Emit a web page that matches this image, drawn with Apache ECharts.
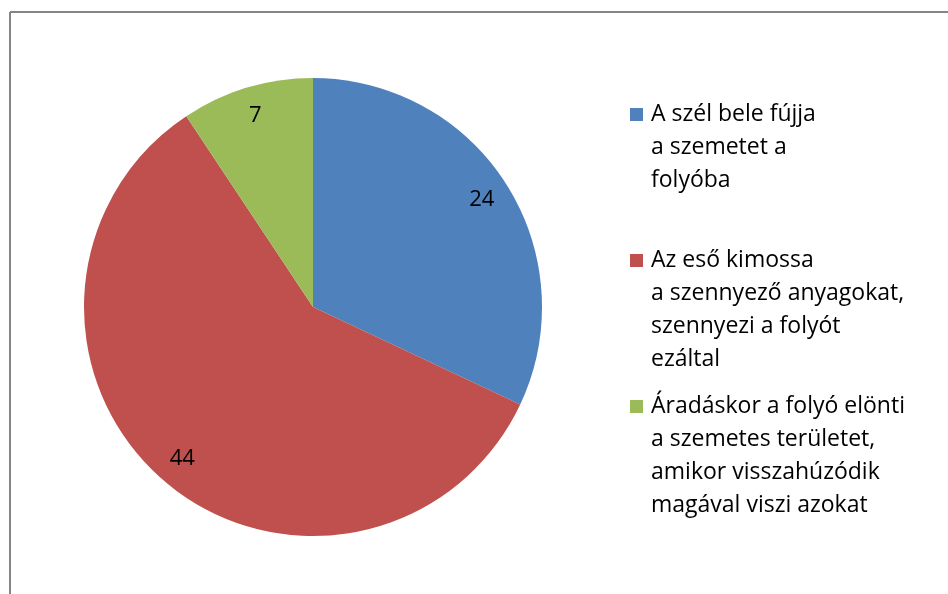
<!DOCTYPE html>
<html>
<head>
<meta charset="utf-8">
<script src="https://cdn.jsdelivr.net/npm/echarts@6/dist/echarts.min.js"></script>
<style>
  html, body { margin: 0; padding: 0; background: #fff; }
  #chart { width: 948px; height: 594px; }
</style>
</head>
<body>
<div id="chart"></div>
<script>
// kategóriák és értékek
let categories = [
    'A szél bele fújja\na szemetet a\nfolyóba',
    'Az eső kimossa\na szennyező anyagokat,\nszennyezi a folyót\nezáltal',
    'Áradáskor a folyó elönti\na szemetes területet,\namikor visszahúzódik\nmagával viszi azokat'
];
let values = [24, 44, 7];
let colors = ['#4F81BD', '#C0504D', '#9BBB59'];

let fontName = 'Open Sans';
let lineH = 33;
let legendTops = [32, 145, 291];

function initChart(dom){
    let chartDom = document.getElementById(dom);
    let chartInstance = echarts.getInstanceByDom(chartDom);
    if(chartInstance){
        return chartInstance;
    }
    return echarts.init(chartDom);
}

// minden jelmagyarázat külön, hogy az ikon az első sorhoz igazodjon
function buildLegends(){
    return categories.map(function(name, i){
        let n = name.split('\n').length;
        return {
            data: [name],
            left: 630,
            top: legendTops[i],
            padding: 0,
            orient: 'vertical',
            icon: 'rect',
            itemWidth: 13,
            itemHeight: 13,
            itemGap: 0,
            selectedMode: false,
            formatter: function(nm){
                return '\n'.repeat(n - 1) + nm;
            },
            textStyle: {
                fontFamily: fontName,
                fontSize: 23,
                color: '#000',
                lineHeight: lineH,
                padding: [0, 0, 0, 3]
            }
        };
    });
}

let pieData = categories.map(function(name, i){
    return { name: name, value: values[i], itemStyle: { color: colors[i] } };
});

let myChart = initChart('chart');
let option = {
    animation: false,
    graphic: [
        { type: 'line', shape: { x1: 10, y1: 12, x2: 948, y2: 12 }, style: { stroke: '#858585', lineWidth: 2 } },
        { type: 'line', shape: { x1: 10, y1: 12, x2: 10, y2: 594 }, style: { stroke: '#858585', lineWidth: 2 } }
    ],
    legend: buildLegends(),
    series: [
        {
            type: 'pie',
            center: [313, 307],
            radius: [0, 229],
            startAngle: 90,
            clockwise: true,
            silent: true,
            label: { show: false },
            labelLine: { show: false },
            data: pieData
        },
        {
            // csak a feliratok helye
            type: 'pie',
            center: [313, 307],
            radius: [166, 228],
            startAngle: 90,
            clockwise: true,
            silent: true,
            legendHoverLink: false,
            itemStyle: { color: 'rgba(0,0,0,0)' },
            label: {
                show: true,
                position: 'inside',
                formatter: '{c}',
                fontFamily: fontName,
                fontSize: 22,
                color: '#000'
            },
            labelLine: { show: false },
            data: values.map(function(v, i){
                return { name: categories[i], value: v, itemStyle: { color: 'rgba(0,0,0,0)' } };
            })
        }
    ]
};
myChart.setOption(option);
</script>
</body>
</html>
